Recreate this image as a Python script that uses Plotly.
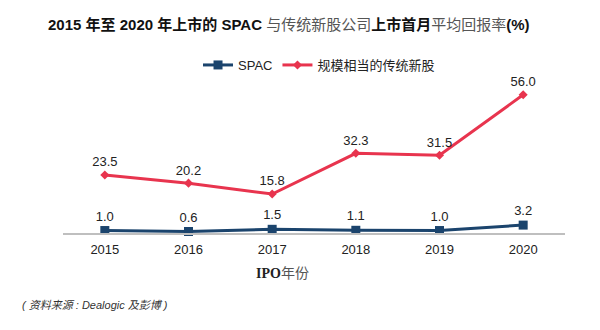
import plotly.graph_objects as go

years = ["2015", "2016", "2017", "2018", "2019", "2020"]
spac = [1.0, 0.6, 1.5, 1.1, 1.0, 3.2]
trad = [23.5, 20.2, 15.8, 32.3, 31.5, 56.0]

BLUE = "#1b446d"
RED = "#e8344e"
FONT = "Liberation Sans, Arial, Noto Sans CJK SC, sans-serif"

fig = go.Figure()
fig.add_trace(go.Scatter(
    x=years, y=spac, name="SPAC", mode="lines+markers+text",
    line=dict(color=BLUE, width=3), marker=dict(symbol="square", size=9, color=BLUE),
    text=[f"{v:.1f}" for v in spac], textposition="top center",
    textfont=dict(size=13, color="#222222"), cliponaxis=False,
))
fig.add_trace(go.Scatter(
    x=years, y=trad, name="规模相当的传统新股", mode="lines+markers+text",
    line=dict(color=RED, width=3), marker=dict(symbol="diamond", size=7, color=RED),
    text=[f"{v:.1f}" for v in trad], textposition="top center",
    textfont=dict(size=13, color="#222222"), cliponaxis=False,
))

fig.update_layout(
    width=600, height=330, margin=dict(l=63, r=35, t=80, b=97),
    paper_bgcolor="white", plot_bgcolor="white",
    font=dict(family=FONT, size=13, color="#222222"),
    showlegend=True,
    legend=dict(orientation="h", x=0.51, xanchor="center", y=1.0, yanchor="bottom",
                font=dict(size=13, color="#222222"), itemwidth=30, bgcolor="rgba(0,0,0,0)"),
    xaxis=dict(type="category", range=[-0.5, 5.5], showgrid=False, showline=True,
               linecolor="#bfbfbf", linewidth=2, ticks="", tickfont=dict(size=13),
               ticklabelstandoff=3),
    yaxis=dict(range=[0, 62], visible=False),
)

fig.add_annotation(
    xref="paper", yref="paper", x=0.45, y=1.0, yshift=56, xanchor="center", yanchor="middle",
    showarrow=False,
    text="<b>2015 年至 2020 年上市的 SPAC</b> <span style='color:#555555'>与传统新股公司</span><b>上市首月</b><span style='color:#555555'>平均回报率</span><b>(%)</b>",
    font=dict(size=15, color="#111111"),
)
fig.add_annotation(
    xref="paper", yref="paper", x=0.438, y=0, yshift=-40, xanchor="center", yanchor="middle",
    showarrow=False,
    text="<b><span style='font-family:Liberation Serif, serif'>IPO</span></b><span style='color:#555555'>年份</span>",
    font=dict(size=14, color="#222222"),
)
fig.add_annotation(
    xref="paper", yref="paper", x=-0.085, y=0, yshift=-72, xanchor="left", yanchor="middle",
    showarrow=False, text="<i>( 资料来源 : Dealogic 及彭博 )</i>",
    font=dict(size=11, color="#333333"),
)

fig.write_html("out.html")
